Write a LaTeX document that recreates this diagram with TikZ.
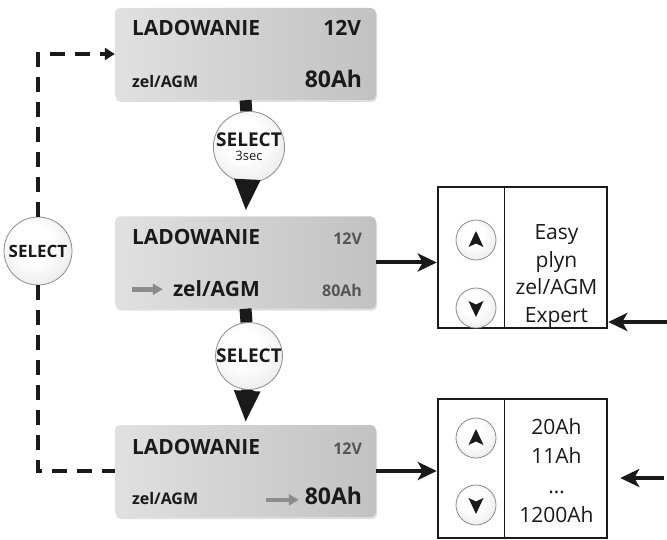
\documentclass[tikz,border=0pt]{standalone}
\usepackage{fontspec}
\setmainfont{Open Sans}
\usetikzlibrary{arrows.meta, calc, shadows}

\definecolor{ink}{HTML}{1A1A1A}
\definecolor{dimtext}{HTML}{555555}
\pgfdeclareradialshading{buttonglow}{\pgfpoint{-6bp}{8bp}}{color(0bp)=(white); color(14bp)=(white); color(40bp)=(black!12); color(50bp)=(black!24)}

\tikzstyle{display} = [rectangle, rounded corners=5pt, minimum width=261pt, minimum height=92pt, left color=black!12, right color=black!24, drop shadow={opacity=0.25, shadow xshift=1pt, shadow yshift=-2pt}]
\tikzstyle{lcdtitle} = [inner sep=0pt, text=ink, font=\bfseries\fontsize{21}{21}\selectfont]
\tikzstyle{lcdlarge} = [inner sep=0pt, text=ink, font=\bfseries\fontsize{23}{23}\selectfont]
\tikzstyle{lcdsmall} = [inner sep=0pt, text=ink, font=\bfseries\fontsize{16}{16}\selectfont]
\tikzstyle{lcddim} = [inner sep=0pt, text=dimtext, font=\bfseries\fontsize{16}{16}\selectfont]
\tikzstyle{selectbtn} = [circle, minimum size=66pt, inner sep=0pt, draw=black!45, line width=0.8pt, shading=buttonglow, text=ink, font=\bfseries\fontsize{19}{19}\selectfont, align=center]
\tikzstyle{updown} = [circle, minimum size=40pt, inner sep=0pt, draw=black!45, line width=0.8pt, shading=buttonglow]
\tikzstyle{choice} = [rectangle, draw=ink, line width=2.5pt, minimum width=169pt, inner sep=0pt]
\tikzstyle{options} = [align=center, text=ink, font=\fontsize{21}{27.5}\selectfont]
\tikzstyle{flow} = [line width=12pt, ink]
\tikzstyle{flowarrow} = [line width=12pt, ink, -{Triangle[width=24pt,length=32pt]}]
\tikzstyle{arrow} = [line width=4pt, ink, -{Stealth[width=18pt,length=19pt,inset=5pt]}]
\tikzstyle{selectloop} = [line width=4.5pt, ink, dash pattern=on 15pt off 10pt, line join=miter]
\tikzstyle{hint} = [line width=4.5pt, black!45, -{Triangle[width=11pt,length=10pt]}]

\begin{document}
\begin{tikzpicture}[x=1pt, y=-1pt]
\useasboundingbox (0,0) rectangle (667,540);

% displays
\node (d1) [display] at (245.5,54) {};
\node (d2) [display] at (245.5,262.5) {};
\node (d3) [display] at (245.5,471) {};

\node [lcdtitle, anchor=base west] at ($(d1.north west)+(17,28)$) {LADOWANIE};
\node [lcdtitle, anchor=base east] at ($(d1.north east)+(-15,28)$) {12V};
\node [lcdsmall, anchor=base west] at ($(d1.north west)+(17,80)$) {zel/AGM};
\node [lcdlarge, anchor=base east] at ($(d1.north east)+(-14,80)$) {80Ah};

\node [lcdtitle, anchor=base west] at ($(d2.north west)+(17,28)$) {LADOWANIE};
\node [lcddim, anchor=base east] at ($(d2.north east)+(-14,28)$) {12V};
\node [lcdtitle, anchor=base west] at ($(d2.north west)+(58,80)$) {zel/AGM};
\node [lcddim, anchor=base east] at ($(d2.north east)+(-14,80)$) {80Ah};

\node [lcdtitle, anchor=base west] at ($(d3.north west)+(17,30)$) {LADOWANIE};
\node [lcddim, anchor=base east] at ($(d3.north east)+(-14,30)$) {12V};
\node [lcdsmall, anchor=base west] at ($(d3.north west)+(17,80)$) {zel/AGM};
\node [lcdlarge, anchor=base east] at ($(d3.north east)+(-14,80)$) {80Ah};

\draw [hint] ($(d2.north west)+(17,73)$) -- +(31,0);
\draw [hint] ($(d3.north west)+(151,75)$) -- +(33,0);

% select buttons
\node (sel1) [selectbtn] at (249,147) {SELECT\\[-5pt]{\mdseries\fontsize{13}{13}\selectfont 3sec}};
\node (sel2) [selectbtn] at (249,356) {SELECT};
\node (sel0) [selectbtn, minimum size=68pt, font=\bfseries\fontsize{17}{17}\selectfont] at (38,251) {SELECT};

% option boxes
\node (modes) [choice, minimum height=141pt] at (522.5,257.5) {};
\node (capacity) [choice, minimum height=139pt] at (522.5,468.5) {};
\draw [line width=1.2pt, ink] ($(modes.north west)+(68,0)$) -- ($(modes.south west)+(68,0)$);
\draw [line width=1.2pt, ink] ($(capacity.north west)+(68,0)$) -- ($(capacity.south west)+(68,0)$);

\node (up1) [updown] at (476,240) {};
\node (down1) [updown] at (476,308) {};
\node (up2) [updown] at (476,438) {};
\node (down2) [updown] at (476,505) {};
\fill [ink] ($(up1)+(0,-9)$) -- ($(up1)+(7.5,7)$) -- ($(up1)+(0,3.5)$) -- ($(up1)+(-7.5,7)$) -- cycle;
\fill [ink] ($(up2)+(0,-9)$) -- ($(up2)+(7.5,7)$) -- ($(up2)+(0,3.5)$) -- ($(up2)+(-7.5,7)$) -- cycle;
\fill [ink] ($(down1)+(0,9)$) -- ($(down1)+(7.5,-7)$) -- ($(down1)+(0,-3.5)$) -- ($(down1)+(-7.5,-7)$) -- cycle;
\fill [ink] ($(down2)+(0,9)$) -- ($(down2)+(7.5,-7)$) -- ($(down2)+(0,-3.5)$) -- ($(down2)+(-7.5,-7)$) -- cycle;

\node (modelist) [options] at (556.5,276) {Easy\\plyn\\zel/AGM\\Expert};
\node (caplist) [options, font=\fontsize{21}{29.5}\selectfont] at (556.5,470.5) {20Ah\\11Ah\\…\\1200Ah};

% connectors
\draw [flow] (d1.south) -- (sel1);
\draw [flowarrow, shorten >=5pt] (sel1) -- (d2.north);
\draw [flow] (d2.south) -- (sel2);
\draw [flowarrow, shorten >=2pt] (sel2) -- (d3.north);

\draw [arrow] (d2.east) -- (d2.east -| modes.west);
\draw [arrow] (d3.east) -- (d3.east -| capacity.west);
\coordinate (in1) at (667,322);
\coordinate (in2) at (664,478);
\draw [arrow] (in1) -- (in1 -| modes.east);
\draw [arrow, shorten >=12pt] (in2) -- (in2 -| capacity.east);

\draw [selectloop, -{Triangle[width=12pt,length=10pt]}] (sel0) |- (d1.west);
\draw [selectloop] (sel0) |- (d3.west);

\end{tikzpicture}
\end{document}
